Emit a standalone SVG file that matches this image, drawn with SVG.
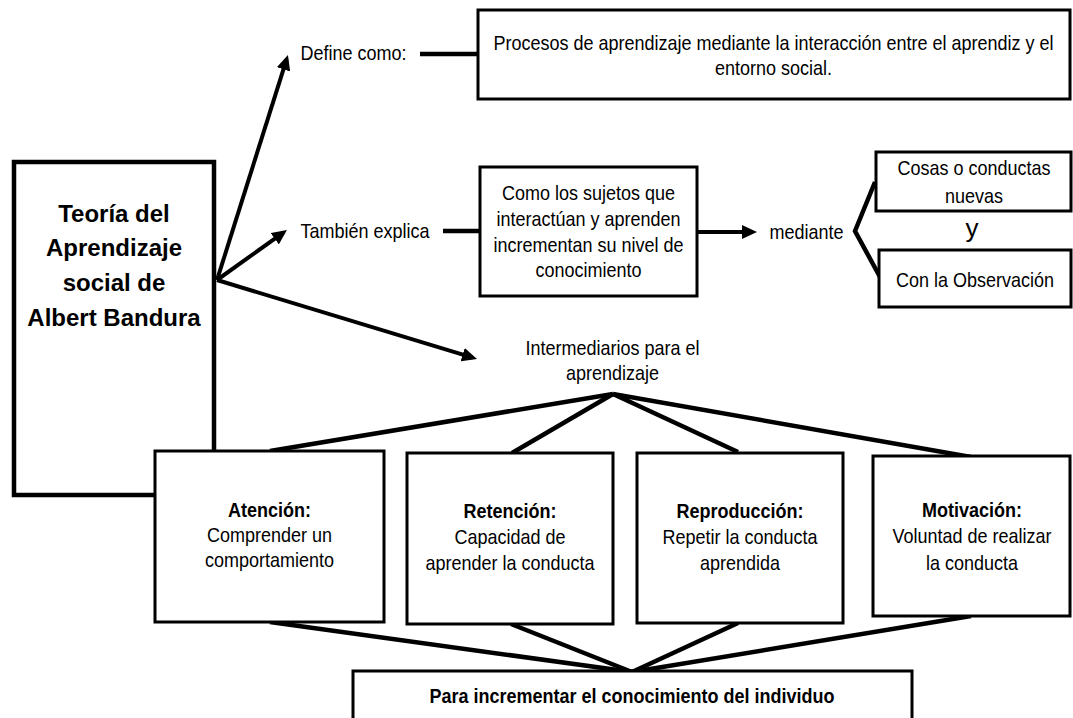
<svg xmlns="http://www.w3.org/2000/svg" width="1073" height="718" viewBox="0 0 1073 718">
<style>
text{font-family:"Liberation Sans",Arial,sans-serif;fill:#000;text-anchor:middle}
.t18,.b18{font-size:20px;transform:scaleX(0.9);transform-box:fill-box;transform-origin:center}
.b18{font-weight:bold}
.title{font-size:24px;font-weight:bold}
.box{fill:#fff;stroke:#000;stroke-width:3}
.thick{fill:#fff;stroke:#000;stroke-width:4.5}
.c{stroke:#000;stroke-width:4.5;fill:none}
.a{stroke:#000;stroke-width:4;fill:none;marker-end:url(#ah)}
</style>
<defs>
<marker id="ah" markerUnits="userSpaceOnUse" viewBox="0 0 15 14" refX="10.5" refY="7" markerWidth="15" markerHeight="14" orient="auto">
<path d="M0,0 L15,7 L0,14 z" fill="#000"/>
</marker>
</defs>
<rect width="1073" height="718" fill="#fff"/>
<g id="connectors">
<line class="a" x1="217" y1="280" x2="286.6" y2="59.3"/>
<line class="a" x1="217" y1="280" x2="283.3" y2="232.6"/>
<line class="a" x1="217" y1="280" x2="472.7" y2="357.7"/>
<line class="c" x1="420" y1="54" x2="478" y2="54"/>
<line class="c" x1="443" y1="231" x2="480" y2="231"/>
<line class="a" x1="697" y1="232" x2="752.5" y2="232"/>
<polyline class="c" points="875,182 855,231 880,277"/>
<line class="c" x1="613" y1="394" x2="270" y2="451"/>
<line class="c" x1="613" y1="394" x2="512" y2="453"/>
<line class="c" x1="613" y1="394" x2="738" y2="452"/>
<line class="c" x1="613" y1="394" x2="971" y2="457"/>
<line class="c" x1="270" y1="622" x2="632" y2="672"/>
<line class="c" x1="511" y1="624" x2="632" y2="672"/>
<line class="c" x1="738" y1="623" x2="632" y2="672"/>
<line class="c" x1="971" y1="616" x2="632" y2="672"/>
</g>
<g id="main">
<rect class="thick" x="14" y="162" width="200" height="333"/>
<text class="title" x="114" y="221.5">Teoría del</text>
<text class="title" x="114" y="256">Aprendizaje</text>
<text class="title" x="114" y="290.7">social de</text>
<text class="title" x="114" y="325.5">Albert Bandura</text>
</g>
<g id="define-label"><text class="t18" x="353.5" y="60">Define como:</text></g>
<g id="procesos">
<rect class="box" x="478" y="10" width="592" height="89"/>
<text class="t18" x="773.5" y="50">Procesos de aprendizaje mediante la interacción entre el aprendiz y el</text>
<text class="t18" x="773.5" y="75">entorno social.</text>
</g>
<g id="tambien-label"><text class="t18" x="365" y="238">También explica</text></g>
<g id="como">
<rect class="box" x="480" y="167" width="217" height="129"/>
<text class="t18" x="588.5" y="200">Como los sujetos que</text>
<text class="t18" x="588.5" y="226">interactúan y aprenden</text>
<text class="t18" x="588.5" y="252">incrementan su nivel de</text>
<text class="t18" x="588.5" y="277">conocimiento</text>
</g>
<g id="mediante-label"><text class="t18" x="806.5" y="239">mediante</text></g>
<g id="cosas">
<rect class="box" x="876" y="152" width="195" height="59"/>
<text class="t18" x="974" y="175">Cosas o conductas</text>
<text class="t18" x="974" y="203">nuevas</text>
</g>
<g id="y-label"><text x="972" y="237" style="font-size:26px">y</text></g>
<g id="observacion">
<rect class="box" x="879" y="250" width="192" height="57"/>
<text class="t18" x="975" y="287">Con la Observación</text>
</g>
<g id="intermediarios">
<text class="t18" x="612.5" y="355">Intermediarios para el</text>
<text class="t18" x="612.5" y="380">aprendizaje</text>
</g>
<g id="atencion">
<rect class="box" x="155" y="451" width="229" height="171"/>
<text class="b18" x="269.5" y="517">Atención:</text>
<text class="t18" x="269.5" y="542">Comprender un</text>
<text class="t18" x="269.5" y="567">comportamiento</text>
</g>
<g id="retencion">
<rect class="box" x="407" y="453" width="206" height="171"/>
<text class="b18" x="510" y="518">Retención:</text>
<text class="t18" x="510" y="544">Capacidad de</text>
<text class="t18" x="510" y="570">aprender la conducta</text>
</g>
<g id="reproduccion">
<rect class="box" x="637" y="453" width="206" height="170"/>
<text class="b18" x="740" y="518">Reproducción:</text>
<text class="t18" x="740" y="544">Repetir la conducta</text>
<text class="t18" x="740" y="570">aprendida</text>
</g>
<g id="motivacion">
<rect class="box" x="873" y="456" width="197" height="160"/>
<text class="b18" x="972" y="517">Motivación:</text>
<text class="t18" x="972" y="543">Voluntad de realizar</text>
<text class="t18" x="972" y="570">la conducta</text>
</g>
<g id="incrementar">
<rect class="box" x="353" y="671" width="559" height="60"/>
<text class="b18" x="632" y="703">Para incrementar el conocimiento del individuo</text>
</g>
</svg>
